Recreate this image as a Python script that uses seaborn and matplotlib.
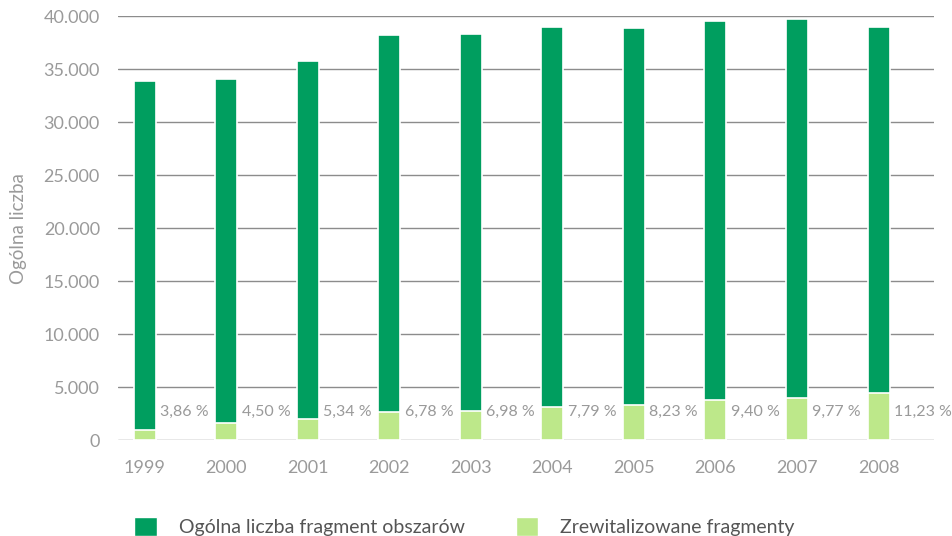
import matplotlib
matplotlib.use("Agg")
import matplotlib.pyplot as plt
import seaborn as sns
import pandas as pd
from matplotlib.patches import Patch

# values
years = ["1999", "2000", "2001", "2002", "2003", "2004", "2005", "2006", "2007", "2008"]
total_fragments = [33870, 34060, 35760, 38240, 38330, 38960, 38870, 39560, 39720, 38960]
revitalized = [990, 1580, 1940, 2600, 2710, 3090, 3280, 3735, 3940, 4430]
pct_labels = ["3,86 %", "4,50 %", "5,34 %", "6,78 %", "6,98 %", "7,79 %", "8,23 %", "9,40 %", "9,77 %", "11,23 %"]

dark_green = "#009e5f"
light_green = "#bde88a"
text_grey = "#9a9a9a"

sns.set_theme(style="white")
plt.rcParams["font.family"] = ["Lato", "DejaVu Sans"]

df = pd.DataFrame({"year": years, "total": total_fragments, "revit": revitalized})

fig = plt.figure(figsize=(9.53, 5.36), dpi=100)
ax = fig.add_axes([0.1238, 0.179, 0.8562, 0.791])

sns.barplot(data=df, x="year", y="total", color=dark_green, width=0.27,
            edgecolor="white", linewidth=1.2, saturation=1, ax=ax)
sns.barplot(data=df, x="year", y="revit", color=light_green, width=0.27,
            edgecolor="white", linewidth=1.2, saturation=1, ax=ax)

for i, lab in enumerate(pct_labels):
    ax.text(i + 0.19, 2700, lab, ha="left", va="center", fontsize=11.5, color=text_grey)

ax.set_ylim(0, 40000)
ax.set_xlim(-0.33, 9.68)
ax.set_yticks(range(0, 40001, 5000))
ax.set_yticklabels(["0"] + [f"{v // 1000}.000" for v in range(5000, 40001, 5000)])
ax.yaxis.grid(True, color="#8c8c8c", linewidth=1)
ax.set_axisbelow(True)
for s in ax.spines.values():
    s.set_visible(False)
ax.tick_params(axis="both", length=0, labelsize=13, colors=text_grey)
ax.tick_params(axis="y", pad=13)
ax.tick_params(axis="x", pad=14)
ax.set_xlabel("")
ax.set_ylabel("Ogólna liczba", fontsize=13.5, color=text_grey, labelpad=12)

handles = [Patch(facecolor=dark_green, label="Ogólna liczba fragment obszarów"),
           Patch(facecolor=light_green, label="Zrewitalizowane fragmenty")]
leg = fig.legend(handles=handles, loc="upper left", bbox_to_anchor=(0.141, 0.036),
                 ncol=2, frameon=False, fontsize=14, handlelength=1.15, handleheight=1.15,
                 columnspacing=2.6, handletextpad=1.15, borderaxespad=0, borderpad=0)
for t in leg.get_texts():
    t.set_color("#555555")

fig.savefig("out.png", dpi=100)
